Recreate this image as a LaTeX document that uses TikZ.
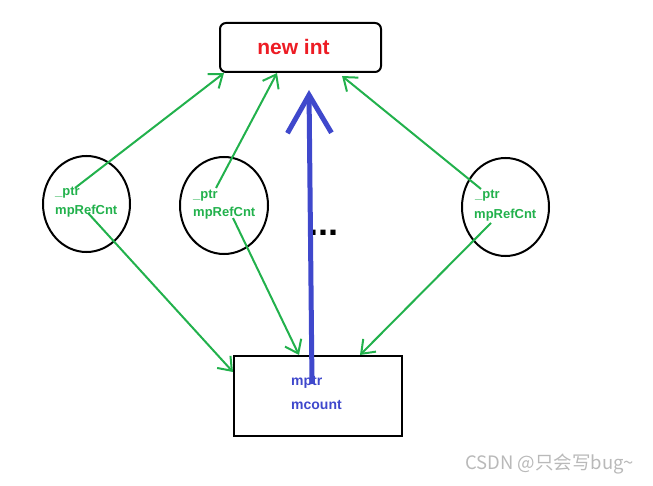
\documentclass[tikz,border=0pt]{standalone}
\usepackage{fontspec}
\setmainfont{Liberation Sans}
\newfontfamily\cjk{Noto Sans CJK SC}
\usetikzlibrary{arrows.meta,shapes.geometric}
\definecolor{paintgreen}{RGB}{34,177,76}
\definecolor{paintblue}{RGB}{63,72,204}
\definecolor{paintred}{RGB}{237,28,36}

\begin{document}
\begin{tikzpicture}[x=1pt,y=-1pt,
  font={\fontsize{13pt}{15}\selectfont\bfseries},
  obj/.style={draw, line width=2, ellipse},
  member/.style={anchor=base west, inner sep=0, text=paintgreen},
  link/.style={paintgreen, line width=2, arrows={-{Straight Barb[length=12pt,width=18pt]}}}
  ]
  \useasboundingbox (0,0) rectangle (653,486);

  % heap object and ref-count block
  \node[draw, line width=2, rounded corners=6, minimum width=161pt, minimum height=49pt] (newint) at (300.5,47.5) {};
  \node[text=paintred, font={\fontsize{21pt}{23}\selectfont\bfseries}] (newtext) at (293.5,47) {new int};
  \node[draw, line width=2, minimum width=168pt, minimum height=80pt] (refbox) at (318,396) {};
  \node[member, text=paintblue, font={\fontsize{14pt}{16}\selectfont\bfseries}] (mptr) at (291,385) {mptr};
  \node[member, text=paintblue, font={\fontsize{14pt}{16}\selectfont\bfseries}] (mcount) at (291,409) {mcount};

  % smart pointers
  \node[obj, minimum width=87pt, minimum height=96pt] (objA) at (86.5,204) {};
  \node[obj, minimum width=88pt, minimum height=97pt] (objB) at (224,205.5) {};
  \node[obj, minimum width=87pt, minimum height=98pt] (objC) at (505.5,207) {};
  \node[member] (ptrA) at (55,196) {\_ptr};
  \node[member] (cntA) at (55,215) {mpRefCnt};
  \node[member] (ptrB) at (193,199) {\_ptr};
  \node[member] (cntB) at (193,217) {mpRefCnt};
  \node[member] (ptrC) at (475,199) {\_ptr};
  \node[member] (cntC) at (474,219) {mpRefCnt};
  \node[anchor=base, inner sep=0, font={\fontsize{36pt}{36}\selectfont\bfseries}] (dots) at (323,236) {...};

  \coordinate (ptrAtail) at (75,188);
  \coordinate (cntAtail) at (88,213);
  \coordinate (ptrBtail) at (216,188);
  \coordinate (cntBtail) at (233,218);
  \coordinate (ptrCtail) at (481,189);
  \coordinate (cntCtail) at (491,223);
  \coordinate (mptrtail) at (312,384);
  \coordinate (mptrhead) at (309,90);

  % links
  \draw[link] (ptrAtail) -- ([xshift=5pt]newint.south west);
  \draw[link] (ptrBtail) -- ([xshift=-23.5pt]newint.south);
  \draw[link] (ptrCtail) -- ([xshift=41.5pt,yshift=-3pt]newint.south);
  \draw[link] (cntAtail) -- ([yshift=24pt]refbox.west);
  \draw[link] (cntBtail) -- ([xshift=-19pt]refbox.north);
  \draw[link] (cntCtail) -- ([xshift=42pt]refbox.north);
  \draw[paintblue, line width=5, arrows={-{Straight Barb[length=38pt,width=44pt]}}] (mptrtail) -- (mptrhead);

  \node[anchor=base west, inner sep=0, text=gray!55, font={\cjk\mdseries\fontsize{18.5pt}{20}\selectfont}] (mark) at (465,469) {CSDN @只会写bug\textasciitilde};
\end{tikzpicture}
\end{document}
